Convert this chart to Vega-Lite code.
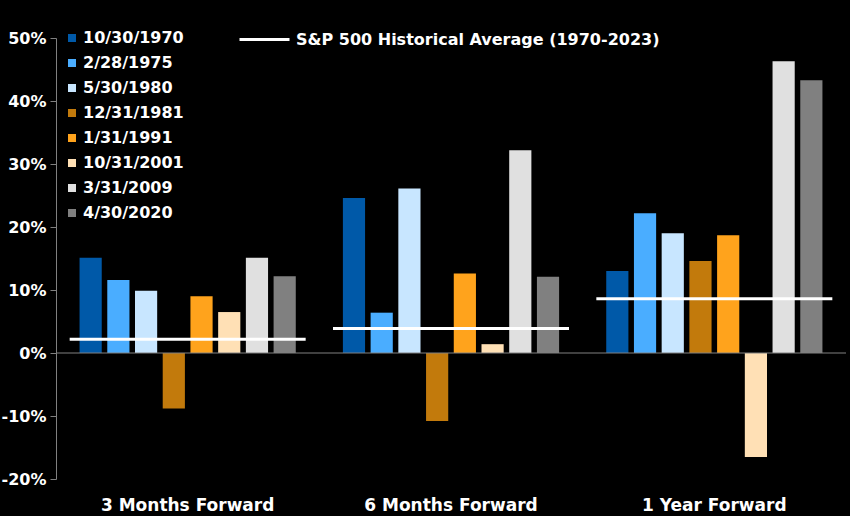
{
  "$schema": "https://vega.github.io/schema/vega-lite/v6.json",
  "background": "black",
  "autosize": "none",
  "width": 790,
  "height": 441,
  "padding": {"left": 56, "top": 38, "right": 4, "bottom": 37},
  "datasets": {
    "bars": [
      {"period": "3 Months Forward", "date": "10/30/1970", "value": 15.1},
      {"period": "3 Months Forward", "date": "2/28/1975", "value": 11.6},
      {"period": "3 Months Forward", "date": "5/30/1980", "value": 9.9},
      {"period": "3 Months Forward", "date": "12/31/1981", "value": -8.8},
      {"period": "3 Months Forward", "date": "1/31/1991", "value": 9.0},
      {"period": "3 Months Forward", "date": "10/31/2001", "value": 6.5},
      {"period": "3 Months Forward", "date": "3/31/2009", "value": 15.1},
      {"period": "3 Months Forward", "date": "4/30/2020", "value": 12.2},
      {"period": "6 Months Forward", "date": "10/30/1970", "value": 24.6},
      {"period": "6 Months Forward", "date": "2/28/1975", "value": 6.4},
      {"period": "6 Months Forward", "date": "5/30/1980", "value": 26.1},
      {"period": "6 Months Forward", "date": "12/31/1981", "value": -10.8},
      {"period": "6 Months Forward", "date": "1/31/1991", "value": 12.6},
      {"period": "6 Months Forward", "date": "10/31/2001", "value": 1.4},
      {"period": "6 Months Forward", "date": "3/31/2009", "value": 32.2},
      {"period": "6 Months Forward", "date": "4/30/2020", "value": 12.1},
      {"period": "1 Year Forward", "date": "10/30/1970", "value": 13.0},
      {"period": "1 Year Forward", "date": "2/28/1975", "value": 22.2},
      {"period": "1 Year Forward", "date": "5/30/1980", "value": 19.0},
      {"period": "1 Year Forward", "date": "12/31/1981", "value": 14.6},
      {"period": "1 Year Forward", "date": "1/31/1991", "value": 18.7},
      {"period": "1 Year Forward", "date": "10/31/2001", "value": -16.5},
      {"period": "1 Year Forward", "date": "3/31/2009", "value": 46.3},
      {"period": "1 Year Forward", "date": "4/30/2020", "value": 43.3}
    ],
    "avgs": [
      {"period": "3 Months Forward", "avg": 2.2},
      {"period": "6 Months Forward", "avg": 3.9},
      {"period": "1 Year Forward", "avg": 8.6}
    ]
  },
  "layer": [
    {
      "data": {"name": "bars"},
      "mark": {"type": "bar"},
      "encoding": {
        "x": {
          "field": "period",
          "type": "nominal",
          "sort": ["3 Months Forward", "6 Months Forward", "1 Year Forward"],
          "scale": {"domain": ["3 Months Forward", "6 Months Forward", "1 Year Forward"], "paddingInner": 0, "paddingOuter": 0},
          "axis": {
            "title": null,
            "domain": false,
            "ticks": false,
            "labelAngle": 0,
            "labelPadding": 18,
            "labelFontSize": 17,
            "labelFont": "DejaVu Sans",
            "labelFontWeight": "bold",
            "labelColor": "white"
          }
        },
        "xOffset": {
          "field": "date",
          "type": "nominal",
          "sort": ["10/30/1970", "2/28/1975", "5/30/1980", "12/31/1981", "1/31/1991", "10/31/2001", "3/31/2009", "4/30/2020"],
          "scale": {"paddingInner": 0.2, "paddingOuter": 0.85}
        },
        "y": {
          "field": "value",
          "type": "quantitative",
          "scale": {"domain": [-20, 50], "nice": false},
          "axis": {
            "title": null,
            "values": [-20, -10, 0, 10, 20, 30, 40, 50],
            "labelExpr": "datum.value + '%'",
            "grid": false,
            "domainColor": "#808080",
            "tickColor": "#808080",
            "tickSize": 6,
            "labelPadding": 4,
            "labelFontSize": 16,
            "labelFont": "DejaVu Sans",
            "labelFontWeight": "bold",
            "labelColor": "white"
          }
        },
        "color": {
          "field": "date",
          "type": "nominal",
          "sort": ["10/30/1970", "2/28/1975", "5/30/1980", "12/31/1981", "1/31/1991", "10/31/2001", "3/31/2009", "4/30/2020"],
          "scale": {
            "domain": ["10/30/1970", "2/28/1975", "5/30/1980", "12/31/1981", "1/31/1991", "10/31/2001", "3/31/2009", "4/30/2020"],
            "range": ["#0059A8", "#4AADFF", "#C8E6FF", "#C27A0C", "#FFA31C", "#FFE0B5", "#E0E0E0", "#808080"]
          },
          "legend": {
            "title": null,
            "orient": "none",
            "legendX": 8,
            "legendY": -8,
            "padding": 0,
            "symbolType": "square",
            "symbolSize": 64,
            "symbolStrokeWidth": 0,
            "labelOffset": 3,
            "labelFontSize": 16,
            "labelFont": "DejaVu Sans",
            "labelFontWeight": "bold",
            "labelColor": "white",
            "rowPadding": 9
          }
        }
      }
    },
    {
      "data": {"values": [{}]},
      "mark": {"type": "rule", "color": "#808080", "strokeWidth": 1},
      "encoding": {"y": {"datum": 0, "type": "quantitative"}}
    },
    {
      "data": {"name": "avgs"},
      "mark": {"type": "tick", "size": 236, "thickness": 3, "opacity": 1},
      "encoding": {
        "x": {"field": "period", "type": "nominal"},
        "y": {"field": "avg", "type": "quantitative"},
        "color": {
          "datum": "S&P 500 Historical Average (1970-2023)",
          "type": "nominal",
          "scale": {"range": ["white"]},
          "legend": {
            "title": null,
            "orient": "none",
            "legendX": 182,
            "legendY": -25,
            "padding": 0,
            "symbolType": "stroke",
            "symbolSize": 2500,
            "symbolStrokeWidth": 3,
            "symbolStrokeColor": "white",
            "symbolOpacity": 1,
            "labelOffset": 5,
            "labelLimit": 0,
            "labelFontSize": 16,
            "labelFont": "DejaVu Sans",
            "labelFontWeight": "bold",
            "labelColor": "white",
            "encode": {"symbols": {"update": {"stroke": {"value": "white"}, "strokeWidth": {"value": 3}, "opacity": {"value": 1}}}}
          }
        }
      }
    }
  ],
  "resolve": {"scale": {"color": "independent"}},
  "config": {"view": {"stroke": null}}
}
